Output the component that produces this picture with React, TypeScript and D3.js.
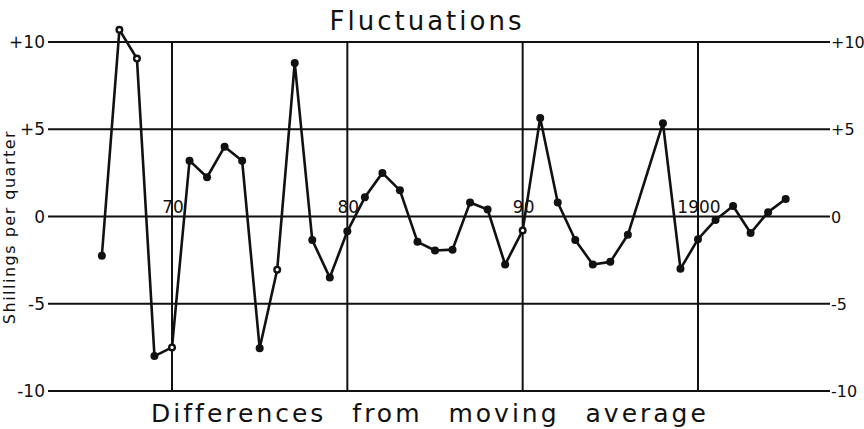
import React from 'react';
import * as d3 from 'd3';

// yearly differences from the moving average (shillings per quarter)
const years = [
  1866, 1867, 1868, 1869, 1870, 1871, 1872, 1873, 1874, 1875, 1876, 1877, 1878, 1879,
  1880, 1881, 1882, 1883, 1884, 1885, 1886, 1887, 1888, 1889, 1890, 1891, 1892, 1893,
  1894, 1895, 1896, 1898, 1899, 1900, 1901, 1902, 1903, 1904, 1905,
];
const values = [
  -2.25, 10.7, 9.05, -8.0, -7.5, 3.2, 2.25, 4.0, 3.2, -7.55, -3.05, 8.8, -1.35, -3.5,
  -0.85, 1.1, 2.5, 1.5, -1.45, -1.95, -1.9, 0.8, 0.4, -2.75, -0.8, 5.65, 0.8, -1.35,
  -2.75, -2.6, -1.05, 5.35, -3.0, -1.3, -0.2, 0.6, -0.95, 0.25, 1.0,
];
const openMarkers = [1867, 1868, 1870, 1876, 1890];

const yTicks = [10, 5, 0, -5, -10];
const leftLabels = ['+10', '+5', '0', '-5', '-10'];
const rightLabels = ['+10', '+5', '0', '-5', '-10'];
const decadeYears = [1870, 1880, 1890, 1900];
const decadeLabels = ['70', '80', '90', '1900'];

const W = 864;
const H = 429;

export default function App() {
  // scales fitted to the grid of the original plate
  const x = d3.scaleLinear().domain([1870, 1900]).range([172, 698]);
  const y = d3.scaleLinear().domain([-10, 10]).range([391, 42]);
  const left = 48;
  const right = 830;

  const pts = years.map((yr, i) => ({ yr, v: values[i] }));
  const line = d3.line<{ yr: number; v: number }>().x(d => x(d.yr)).y(d => y(d.v));

  const font = '"DejaVu Sans", sans-serif';

  return (
    <svg width={W} height={H} style={{ position: 'absolute', left: 0, top: 0, background: '#fff' }}>
      <rect width={W} height={H} fill="#fff" />

      <text x={427} y={30} textAnchor="middle" fontFamily={font} fontSize={26} letterSpacing={3} fill="#111">
        Fluctuations
      </text>

      {/* rotated unit label along the left edge */}
      <text
        transform={`translate(15,${y(-0.6)}) rotate(-90)`}
        textAnchor="middle"
        fontFamily={font}
        fontSize={16}
        letterSpacing={1.5}
        fill="#111"
      >
        Shillings per quarter
      </text>

      {/* horizontal rules */}
      {yTicks.map(t => (
        <line key={'h' + t} x1={left} x2={right} y1={y(t)} y2={y(t)} stroke="#111" strokeWidth={2} />
      ))}
      {/* decade rules */}
      {decadeYears.map(d => (
        <line key={'v' + d} x1={x(d)} x2={x(d)} y1={y(10)} y2={y(-10)} stroke="#111" strokeWidth={2} />
      ))}

      {yTicks.map((t, i) => (
        <text key={'l' + t} x={45} y={y(t) + 6} textAnchor="end" fontFamily={font} fontSize={17} fill="#111">
          {leftLabels[i]}
        </text>
      ))}
      {yTicks.map((t, i) => (
        <text key={'r' + t} x={right + 1} y={y(t) + 6} textAnchor="start" fontFamily={font} fontSize={16} fill="#111">
          {rightLabels[i]}
        </text>
      ))}

      {decadeYears.map((d, i) => (
        <text key={'d' + d} x={x(d) + 1} y={y(0) - 4} textAnchor="middle" fontFamily={font} fontSize={17} fill="#111">
          {decadeLabels[i]}
        </text>
      ))}

      <path d={line(pts) || ''} fill="none" stroke="#111" strokeWidth={2.6} strokeLinejoin="round" />

      {pts.map(p => {
        const open = openMarkers.includes(p.yr);
        return (
          <g key={'p' + p.yr}>
            <circle cx={x(p.yr)} cy={y(p.v)} r={4} fill="#111" />
            {open && <circle cx={x(p.yr)} cy={y(p.v)} r={1.6} fill="#fff" />}
          </g>
        );
      })}

      <text x={430} y={422} textAnchor="middle" fontFamily={font} fontSize={25} letterSpacing={3} wordSpacing={15} fill="#111">
        Differences from moving average
      </text>
    </svg>
  );
}
